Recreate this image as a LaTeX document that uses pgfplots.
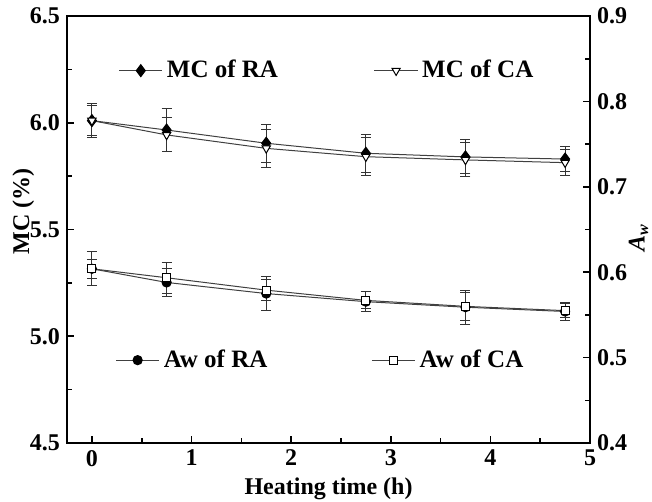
\documentclass[border=0pt]{standalone}
\usepackage{fontspec}
\setmainfont{Liberation Serif}
\usepackage{pgfplots}
\usepackage{pgfplotstable}
\pgfplotsset{compat=1.18}

% moisture content (left axis): time, value, error
\pgfplotstableread{
t    y      e
0    6.010  0.07
0.75 5.966  0.10
1.75 5.904  0.09
2.75 5.857  0.09
3.75 5.840  0.08
4.75 5.830  0.06
}\mcra
\pgfplotstableread{
t    y      e
0    6.010  0.08
0.75 5.943  0.08
1.75 5.880  0.09
2.75 5.841  0.09
3.75 5.826  0.08
4.75 5.813  0.06
}\mcca
% water activity (right axis)
\pgfplotstableread{
t    y      e
0    0.6040 0.011
0.75 0.5880 0.016
1.75 0.5750 0.020
2.75 0.5655 0.012
3.75 0.5590 0.020
4.75 0.5540 0.010
}\awra
\pgfplotstableread{
t    y      e
0    0.6040 0.020
0.75 0.5935 0.018
1.75 0.5790 0.012
2.75 0.5670 0.010
3.75 0.5600 0.016
4.75 0.5550 0.008
}\awca

\newcommand{\bigfont}{\bfseries\fontsize{12}{14}\selectfont}
\newcommand{\legfont}{\bfseries\fontsize{12.5}{14}\selectfont}

\pgfplotsset{
  common/.style={
    scale only axis, width=261.5pt, height=213.5pt,
    xmin=-0.25, xmax=5,
    axis line style={line width=1pt},
    tick align=inside,
    major tick length=3.5pt, minor tick length=2.5pt,
    every tick/.style={line width=0.8pt, black},
    tick label style={font=\bigfont},
    /pgf/number format/assume math mode=true,
    label style={font=\bigfont},
    legend style={font=\legfont, draw=none, fill=none, inner sep=0pt,
      legend columns=2},
    legend image code/.code={
      \draw[mark repeat=2, mark phase=2, #1]
        plot coordinates {(0cm,0cm) (0.38cm,0cm) (0.76cm,0cm)};},
  },
  ser/.style={black!75, line width=0.5pt,
    error bars/y dir=both, error bars/y explicit,
    error bars/error bar style={line width=0.5pt, black!80},
    error bars/error mark options={rotate=90, mark size=2.5pt,
      line width=0.5pt, black!80}},
}

\begin{document}
\begin{tikzpicture}
\begin{axis}[common, name=ax,
  xtick={0,1,2,3,4,5}, minor x tick num=1, xtick pos=bottom,
  ymin=4.5, ymax=6.5, ytick={4.5,5.0,5.5,6.0,6.5}, minor y tick num=1,
  ytick pos=left,
  yticklabel style={/pgf/number format/.cd, fixed, fixed zerofill, precision=1},
  xlabel={Heating time (h)}, ylabel={MC (\%)},
  xlabel style={yshift=1pt},
  ylabel style={xshift=9pt, yshift=-9pt},
  legend style={at={(0.098,0.872)}, anchor=west,
    /tikz/every even column/.append style={column sep=46pt}},
]
\addplot[ser, mark=diamond*, mark size=3pt,
  mark options={fill=black, solid, draw=black}]
  table[x=t, y=y, y error=e]{\mcra};
\addlegendentry{MC of RA}
\addplot[ser, mark=triangle*, mark size=2.4pt,
  mark options={rotate=180, fill=white, solid, draw=black}]
  table[x=t, y=y, y error=e]{\mcca};
\addlegendentry{MC of CA}
\end{axis}

\begin{axis}[common,
  xtick=\empty,
  ymin=0.4, ymax=0.9, ytick={0.4,0.5,0.6,0.7,0.8,0.9}, minor y tick num=1,
  ytick pos=right, yticklabel pos=right,
  yticklabel style={/pgf/number format/.cd, fixed, fixed zerofill, precision=1},
  ylabel={\textit{A}\textsubscript{\textit{w}}},
  ylabel style={xshift=-4pt, yshift=6pt},
  legend style={at={(0.092,0.194)}, anchor=west,
    /tikz/every even column/.append style={column sep=50pt}},
]
\addplot[ser, mark=*, mark size=2.3pt,
  mark options={fill=black, solid, draw=black}]
  table[x=t, y=y, y error=e]{\awra};
\addlegendentry{Aw of RA}
\addplot[ser, mark=square*, mark size=2pt,
  mark options={fill=white, solid, draw=black}]
  table[x=t, y=y, y error=e]{\awca};
\addlegendentry{Aw of CA}
\end{axis}

\pgfresetboundingbox
\path ([shift={(-33.5pt,-29.5pt)}]ax.south west)
  rectangle ([shift={(31pt,8pt)}]ax.north east);
\end{tikzpicture}
\end{document}
